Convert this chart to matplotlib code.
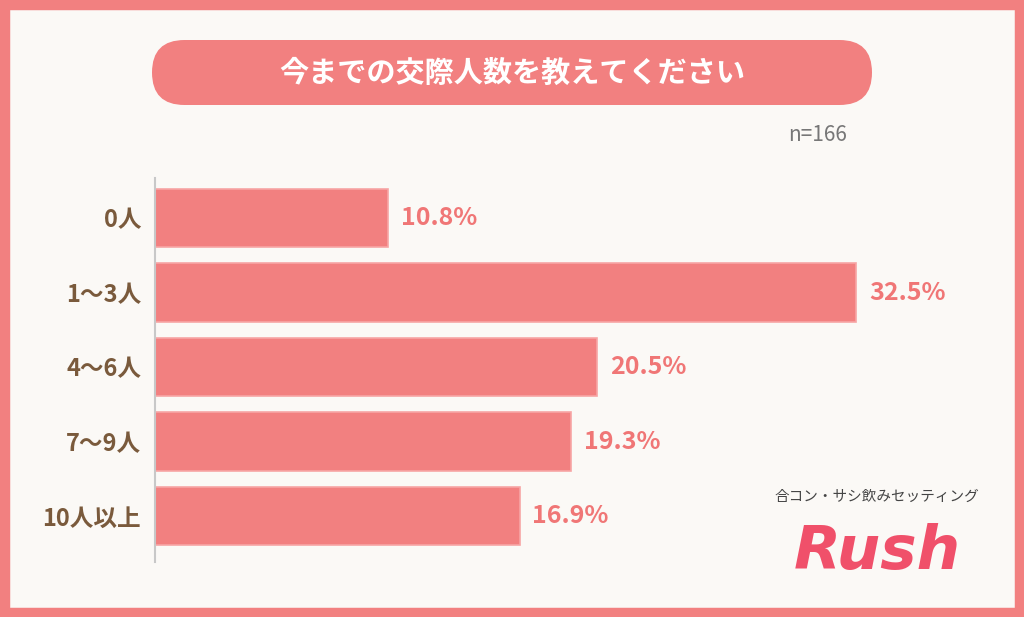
import matplotlib.pyplot as plt
from matplotlib.patches import FancyBboxPatch, Rectangle

plt.rcParams['font.family'] = ['Noto Sans CJK JP', 'DejaVu Sans']

categories = ['0人', '1〜3人', '4〜6人', '7〜9人', '10人以上']
values = [10.8, 32.5, 20.5, 19.3, 16.9]
title = '今までの交際人数を教えてください'
n_label = 'n=166'

W, H = 1024, 617
pink = '#f28080'
fig = plt.figure(figsize=(W / 100, H / 100), dpi=100)
fig.patch.set_facecolor('#fbf9f6')

# pixel-space overlay for frame and title pill
bg = fig.add_axes([0, 0, 1, 1])
bg.set_xlim(0, W)
bg.set_ylim(H, 0)
bg.axis('off')
bg.add_patch(Rectangle((0, 0), W, H, fill=False, edgecolor=pink, linewidth=14))
bg.add_patch(FancyBboxPatch((152 + 32, 40), 720 - 64, 65,
                            boxstyle='round,pad=0,rounding_size=32.5',
                            facecolor=pink, edgecolor='none'))
bg.add_patch(FancyBboxPatch((152, 40), 720, 65,
                            boxstyle='round,pad=0,rounding_size=32.5',
                            facecolor=pink, edgecolor='none'))
bg.text(512, 73, title, ha='center', va='center', color='white',
        fontsize=21, fontweight='bold')
bg.text(818, 135, n_label, ha='center', va='center', color='#777777', fontsize=15)

ax = fig.add_axes([155 / W, 1 - 562 / H, (1000 - 155) / W, (562 - 178) / H])
ax.set_facecolor('none')
y = list(range(len(categories)))
ax.barh(y, values, height=0.78, color=pink, edgecolor='#f7a5a5', linewidth=1.2)
ax.set_xlim(0, 845 / 21.57)
ax.set_ylim(4.617, -0.537)
for yi, v in zip(y, values):
    ax.text(v + 0.6, yi, f'{v}%', va='center', ha='left', color='#f07676',
            fontsize=18, fontweight='bold')
ax.set_yticks(y)
ax.set_yticklabels(categories, fontsize=17, fontweight='bold', color='#7a5a3c')
ax.tick_params(axis='y', length=0, pad=10)
ax.set_xticks([])
for s in ['top', 'right', 'bottom']:
    ax.spines[s].set_visible(False)
ax.spines['left'].set_color('#c8c8c8')
ax.spines['left'].set_linewidth(1.5)

# logo
bg.text(877, 497, '合コン・サシ飲みセッティング', ha='center', va='center',
        color='#444444', fontsize=10.5)
bg.text(877, 552, 'Rush', ha='center', va='center', color='#f0506a',
        fontsize=44, fontweight='bold', fontstyle='italic', family='DejaVu Sans')

fig.savefig('out.png', dpi=100, facecolor=fig.get_facecolor())
